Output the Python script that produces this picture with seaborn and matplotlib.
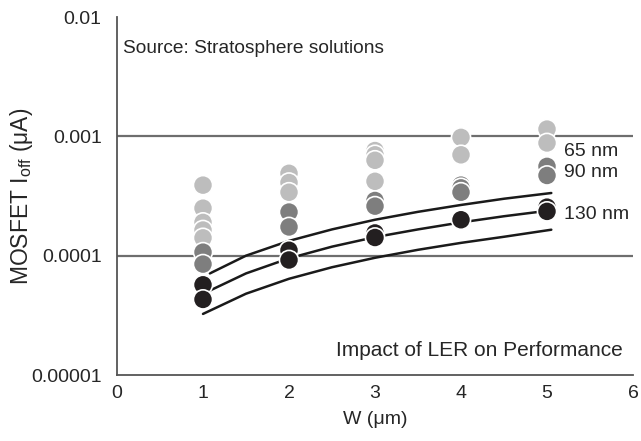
import numpy as np
import pandas as pd
import matplotlib
matplotlib.use("Agg")
import matplotlib.pyplot as plt
import seaborn as sns

# measured points, MOSFET Ioff (uA) versus W (um)
w_65 = [1, 1, 1, 1, 1, 2, 2, 2, 3, 3, 3, 3, 4, 4, 5, 5]
ioff_65 = [3.9e-4, 2.5e-4, 1.9e-4, 1.64e-4, 1.41e-4,
           4.9e-4, 4.1e-4, 3.4e-4,
           7.6e-4, 7.0e-4, 6.3e-4, 4.2e-4,
           9.8e-4, 7.0e-4,
           1.15e-3, 8.8e-4]
w_90 = [1, 1, 2, 2, 3, 3, 4, 4, 4, 5, 5]
ioff_90 = [1.07e-4, 8.5e-5,
           2.32e-4, 1.74e-4,
           2.9e-4, 2.6e-4,
           3.9e-4, 3.7e-4, 3.4e-4,
           5.6e-4, 4.7e-4]
w_130 = [1, 1, 2, 2, 3, 3, 4, 5, 5]
ioff_130 = [5.7e-5, 4.3e-5,
            1.11e-4, 9.2e-5,
            1.55e-4, 1.42e-4,
            2.0e-4,
            2.55e-4, 2.35e-4]

curve_w = [1.08, 1.5, 2.0, 2.5, 3.0, 3.5, 4.0, 4.5, 5.05]
curve_top = [7.1e-5, 1.0e-4, 1.33e-4, 1.66e-4, 2.0e-4, 2.33e-4, 2.66e-4, 3.0e-4, 3.35e-4]
curve_mid = [5.1e-5, 7.1e-5, 9.5e-5, 1.19e-4, 1.43e-4, 1.66e-4, 1.9e-4, 2.14e-4, 2.4e-4]
curve_low_w = [1.0, 1.5, 2.0, 2.5, 3.0, 3.5, 4.0, 4.5, 5.05]
curve_low = [3.25e-5, 4.8e-5, 6.4e-5, 8.0e-5, 9.6e-5, 1.12e-4, 1.28e-4, 1.44e-4, 1.65e-4]

nodes = ["65 nm", "90 nm", "130 nm"]
node_colors = ["#bdbdbd", "#7e7e7e", "#231f20"]
label_y = [7.4e-4, 5.0e-4, 2.2e-4]

points = pd.concat([
    pd.DataFrame({"W": w_65, "Ioff": ioff_65, "node": "65 nm"}),
    pd.DataFrame({"W": w_90, "Ioff": ioff_90, "node": "90 nm"}),
    pd.DataFrame({"W": w_130, "Ioff": ioff_130, "node": "130 nm"}),
], ignore_index=True)

curves = pd.concat([
    pd.DataFrame({"W": curve_w, "Ioff": curve_top, "curve": "top"}),
    pd.DataFrame({"W": curve_w, "Ioff": curve_mid, "curve": "mid"}),
    pd.DataFrame({"W": curve_low_w, "Ioff": curve_low, "curve": "low"}),
], ignore_index=True)

sns.set_style("white")
plt.rcParams["font.family"] = ["Liberation Sans", "DejaVu Sans"]
plt.rcParams["mathtext.default"] = "regular"

fig = plt.figure(figsize=(6.41, 4.41), dpi=100)
ax = fig.add_axes([117 / 641, 1 - 375 / 441, 516 / 641, 358 / 441])

ax.set_yscale("log")
ax.set_xlim(0, 6)
ax.set_ylim(1e-5, 1e-2)

for yv in [1e-3, 1e-4]:
    ax.axhline(yv, color="#6e6e6e", lw=1.6, zorder=1)

sns.lineplot(data=curves, x="W", y="Ioff", units="curve", estimator=None,
             sort=False, color="#1a1a1a", lw=1.8, ax=ax, zorder=2, legend=False)

sns.scatterplot(data=points, x="W", y="Ioff", hue="node", hue_order=nodes,
                palette=node_colors, s=190, edgecolor="white", linewidth=1.2,
                ax=ax, zorder=3, legend=False)

ax.set_xticks(range(7))
ax.set_yticks([1e-5, 1e-4, 1e-3, 1e-2])
ax.set_yticklabels(["0.00001", "0.0001", "0.001", "0.01"])
ax.minorticks_off()
ax.tick_params(axis="y", direction="in", length=5, color="#555555", width=1.2,
               pad=11, labelsize=14)
ax.tick_params(axis="x", length=0, pad=7, labelsize=14)

for side in ["top", "right"]:
    ax.spines[side].set_visible(False)
for side in ["left", "bottom"]:
    ax.spines[side].set_color("#555555")
    ax.spines[side].set_linewidth(1.3)

ax.set_xlabel("W (μm)", fontsize=14, labelpad=7)
ax.set_ylabel("MOSFET I$_{off}$ (μA)", fontsize=16.5, labelpad=-3)

ax.text(0.07, 5.4e-3, "Source: Stratosphere solutions", fontsize=13.8, va="center")
ax.text(5.88, 1.6e-5, "Impact of LER on Performance", fontsize=15,
        ha="right", va="center")
for name, yv in zip(nodes, label_y):
    ax.text(5.2, yv, name, fontsize=14, va="center")

fig.savefig("out.png", dpi=100)
